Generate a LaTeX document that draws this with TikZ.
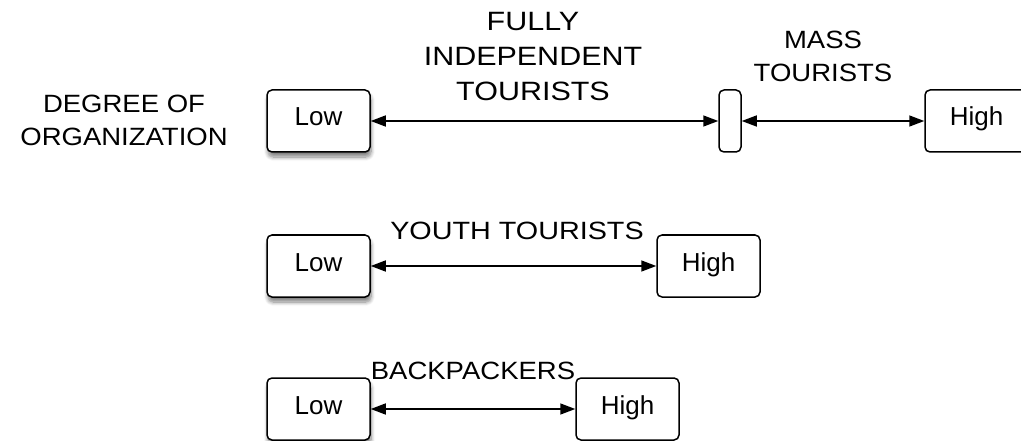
\documentclass[tikz,border=0pt]{standalone}
\usepackage{fontspec}
\setmainfont{Liberation Sans}
\newfontfamily\lblfont[FakeStretch=1.1]{Liberation Sans}
\newfontfamily\widefont[FakeStretch=1.15]{Liberation Sans}
\usetikzlibrary{arrows.meta, shadows.blur}

\begin{document}
\begin{tikzpicture}[x=1pt, y=-1pt,
  levelbox/.style={draw, line width=1.5pt, rounded corners=5pt, minimum width=103pt,
    minimum height=62pt, text height=19pt, text depth=9pt, fill=white, font=\fontsize{26}{30}\selectfont},
  lowbox/.style={levelbox, blur shadow={shadow xshift=1pt, shadow yshift=-5pt,
    shadow blur radius=4pt, shadow blur steps=8, shadow opacity=50}},
  scalearrow/.style={line width=1.5pt, {Triangle[length=15pt,width=11pt]}-{Triangle[length=15pt,width=11pt]}},
  tag/.style={font=\fontsize{25}{33}\lblfont, align=center, inner sep=0pt, anchor=north}]
  \useasboundingbox (0,0) rectangle (1021,441);
  % degree of organization scale
  \node[lowbox] (low1) at (318.5,121) {Low};
  \node[levelbox, minimum width=22pt] (mid) at (730,121) {};
  \node[levelbox] (high1) at (976.5,121) {High};
  \node[lowbox] (low2) at (318.5,266) {Low};
  \node[levelbox] (high2) at (708.5,266) {High};
  \node[lowbox] (low3) at (318.5,409) {Low};
  \node[levelbox] (high3) at (627.5,409) {High};
  \draw[scalearrow] (low1) -- (mid);
  \draw[scalearrow] (mid) -- (high1);
  \draw[scalearrow] (low2) -- (high2);
  \draw[scalearrow] (low3) -- (high3);
  % labels
  \node[tag] (degree) at (124,95) {DEGREE OF\\ORGANIZATION};
  \node[tag, font=\fontsize{26.5}{35}\widefont] (fit) at (533,12) {FULLY\\INDEPENDENT\\TOURISTS};
  \node[tag] (mass) at (823,31) {MASS\\TOURISTS};
  \node[tag, font=\fontsize{25}{33}\widefont] (youth) at (517,222) {YOUTH TOURISTS};
  \node[tag] (backpack) at (473,362) {BACKPACKERS};
\end{tikzpicture}
\end{document}
